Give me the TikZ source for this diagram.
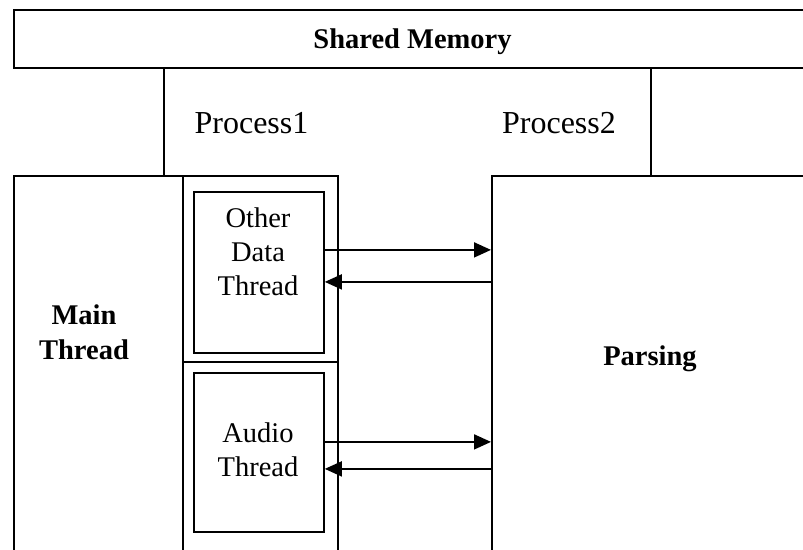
\documentclass[tikz,border=0pt]{standalone}
\usepackage{fontspec}
\setmainfont{Liberation Serif}
\usetikzlibrary{arrows.meta}
\begin{document}
\begin{tikzpicture}[x=1pt,y=-1pt,
  frame/.style={draw, line width=1.8pt, rectangle, inner sep=0pt, anchor=north west},
  txt/.style={font=\fontsize{28.5}{34}\selectfont, align=center, inner sep=0pt, anchor=base},
  boldtxt/.style={txt, font=\fontsize{28.5}{35}\selectfont\bfseries},
  bigtxt/.style={font=\fontsize{32}{38}\selectfont, inner sep=0pt, anchor=base},
  link/.style={line width=1.8pt, -{Triangle[length=17pt,width=15pt]}},
]
\useasboundingbox (0,0) rectangle (803,549);
\clip (0,0) rectangle (803,549);

% shared memory band across the top (runs off the right edge)
\node[frame, minimum width=820pt, minimum height=58pt] (shared) at (13,9) {};
\node[boldtxt] (sharedlbl) at (412.5,48) {Shared Memory};

% side walls of the process band
\draw[line width=1.8pt] (164,67) -- (164,175);
\draw[line width=1.8pt] (651,67) -- (651,175);
\node[bigtxt] (p1) at (251.5,133) {Process1};
\node[bigtxt] (p2) at (559,133) {Process2};

% process 1: main thread and the thread column
\node[frame, minimum width=169pt, minimum height=400pt] (main) at (13,175) {};
\node[boldtxt] (mainlbl) at (84,359) {Main\\Thread};
\node[frame, minimum width=155pt, minimum height=186pt] (colA) at (182,175) {};
\node[frame, minimum width=155pt, minimum height=220pt] (colB) at (182,361) {};
\node[frame, minimum width=130pt, minimum height=161pt] (otherbox) at (193,191) {};
\node[frame, minimum width=130pt, minimum height=159pt] (audiobox) at (193,372) {};
\node[txt] (otherlbl) at (258,295) {Other\\Data\\Thread};
\node[txt] (audiolbl) at (258,476) {Audio\\Thread};

% process 2: parsing
\node[frame, minimum width=340pt, minimum height=400pt] (parsing) at (491,175) {};
\node[boldtxt] (parsinglbl) at (650,365) {Parsing};

% data exchange between threads and the parser
\draw[link] ([yshift=22.5pt]otherbox.east) -- ([yshift=22.5pt]otherbox.east -| parsing.west);
\draw[link] ([yshift=-9.5pt]otherbox.east -| parsing.west) -- ([yshift=-9.5pt]otherbox.east);
\draw[link] ([yshift=10.5pt]audiobox.east) -- ([yshift=10.5pt]audiobox.east -| parsing.west);
\draw[link] ([yshift=-16.5pt]audiobox.east -| parsing.west) -- ([yshift=-16.5pt]audiobox.east);
\end{tikzpicture}
\end{document}
